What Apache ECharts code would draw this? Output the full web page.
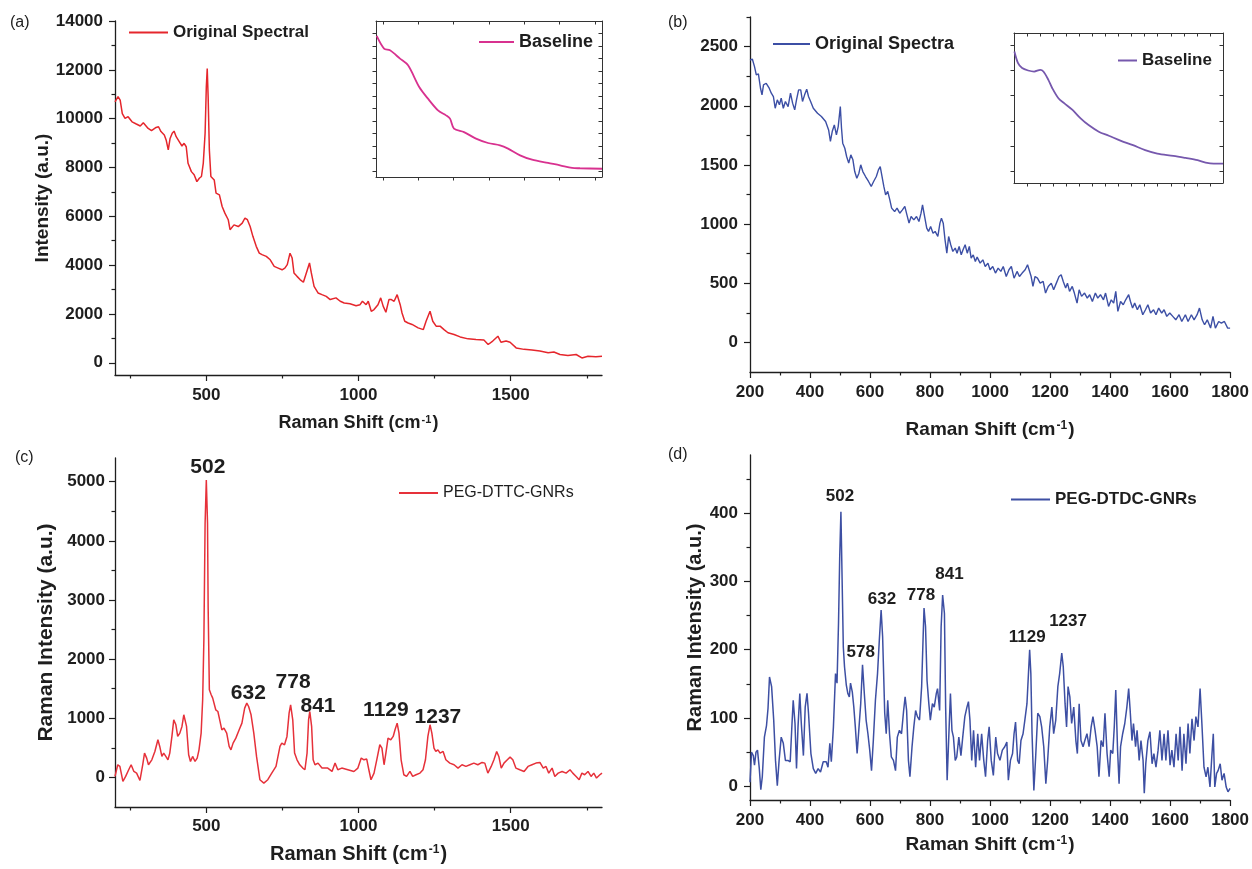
<!DOCTYPE html>
<html>
<head>
<meta charset="utf-8">
<script src="https://cdn.jsdelivr.net/npm/echarts@6/dist/echarts.min.js"></script>
<style>
  html, body { margin: 0; padding: 0; background: #fff; }
  #chart { width: 1252px; height: 869px; }
</style>
</head>
<body>
<div id="chart"></div>
<script>
// --- data: [Raman shift (cm-1), intensity] ---
const specA = [[200,10690],[210,10900],[217,10760],[224,10210],[233,10010],[243,10080],[256,9870],[270,9780],[283,9700],[293,9830],[298,9870],[309,9600],[320,9510],[335,9640],[343,9670],[351,9470],[362,9330],[368,9130],[375,8720],[381,9190],[388,9400],[394,9490],[401,9260],[411,9060],[420,8880],[427,8990],[434,8850],[440,8170],[451,7830],[460,7700],[469,7420],[477,7560],[484,7630],[490,8170],[496,9400],[500,11300],[503,12050],[506,10900],[510,8720],[515,7630],[526,7490],[532,6950],[543,6880],[552,6400],[561,6130],[572,5860],[578,5450],[591,5650],[605,5580],[618,5720],[627,5930],[635,5860],[644,5580],[653,5180],[664,4770],[674,4490],[683,4430],[697,4360],[710,4220],[723,3950],[736,3880],[749,3810],[758,3880],[766,4020],[775,4490],[782,4290],[788,3680],[798,3540],[808,3410],[819,3300],[824,3340],[832,3810],[839,4090],[845,3680],[854,3130],[867,2860],[880,2790],[894,2720],[907,2590],[926,2660],[940,2520],[953,2450],[972,2420],[992,2340],[1005,2380],[1013,2520],[1025,2380],[1032,2520],[1042,2110],[1051,2180],[1064,2380],[1073,2660],[1081,2320],[1090,2070],[1100,2590],[1108,2590],[1117,2520],[1127,2790],[1137,2380],[1143,2040],[1152,1700],[1163,1630],[1176,1570],[1196,1430],[1213,1360],[1222,1700],[1235,2110],[1244,1700],[1255,1500],[1268,1500],[1281,1360],[1294,1230],[1314,1160],[1334,1060],[1360,980],[1386,950],[1412,930],[1426,750],[1441,890],[1458,1090],[1468,840],[1485,890],[1498,840],[1518,610],[1544,550],[1570,520],[1596,480],[1623,410],[1642,440],[1662,340],[1688,300],[1715,340],[1734,200],[1754,270],[1780,250],[1800,270]];

const baselineA = [[205,90.4],[257,82.3],[299,81.2],[370,75.9],[427,71.6],[506,57.7],[568,50.2],[639,42.7],[696,39.5],[724,37.4],[752,31.0],[823,28.8],[908,24.6],[993,21.8],[1078,20.3],[1135,18.2],[1220,13.9],[1305,11.1],[1418,9.0],[1503,7.5],[1588,5.8],[1644,5.6],[1800,5.3]];

const specB = [[200,2387],[208,2393],[215,2331],[221,2261],[228,2269],[235,2148],[240,2092],[245,2176],[254,2190],[259,2204],[264,2148],[271,2106],[278,2078],[284,1979],[291,2050],[298,2008],[304,2064],[311,1979],[318,2036],[327,1993],[335,2106],[342,2022],[349,1965],[355,2050],[362,2134],[369,2134],[375,2036],[382,2092],[389,2140],[395,2078],[402,2036],[411,1979],[425,1937],[438,1909],[452,1867],[462,1796],[468,1698],[474,1782],[481,1838],[488,1754],[494,1824],[501,1993],[505,1810],[509,1684],[516,1641],[522,1571],[529,1515],[536,1585],[543,1543],[549,1444],[556,1388],[563,1430],[569,1501],[576,1444],[585,1402],[595,1360],[604,1318],[612,1360],[621,1402],[628,1458],[634,1486],[639,1416],[646,1318],[652,1247],[659,1276],[666,1205],[672,1135],[682,1106],[690,1135],[699,1092],[708,1120],[716,1149],[723,1078],[730,1008],[737,1064],[746,1036],[755,1064],[763,1022],[770,1092],[775,1163],[782,1064],[789,966],[795,938],[802,980],[810,923],[817,938],[826,895],[833,1008],[838,1050],[844,1008],[850,867],[856,754],[862,895],[869,825],[876,769],[884,797],[890,754],[897,811],[904,740],[910,783],[917,825],[924,754],[931,811],[937,712],[944,740],[951,684],[957,721],[967,670],[976,698],[984,642],[993,670],[1000,614],[1009,642],[1018,586],[1027,628],[1036,600],[1044,642],[1054,557],[1063,614],[1071,642],[1080,543],[1090,600],[1098,557],[1107,586],[1117,614],[1125,656],[1130,670],[1137,557],[1143,473],[1150,557],[1158,543],[1167,501],[1177,515],[1185,417],[1194,473],[1204,501],[1212,445],[1221,501],[1230,557],[1237,572],[1244,515],[1252,459],[1258,501],[1265,431],[1274,473],[1281,417],[1290,332],[1297,445],[1305,389],[1315,417],[1324,374],[1332,403],[1341,346],[1351,417],[1359,374],[1368,403],[1378,360],[1385,417],[1395,304],[1404,360],[1412,332],[1419,431],[1426,262],[1435,346],[1444,318],[1452,360],[1462,403],[1468,346],[1475,290],[1482,332],[1491,276],[1499,318],[1509,234],[1518,276],[1526,318],[1535,248],[1545,276],[1553,234],[1562,290],[1572,248],[1580,276],[1589,220],[1599,248],[1609,220],[1619,191],[1630,234],[1639,177],[1651,234],[1660,177],[1671,234],[1680,191],[1690,234],[1698,290],[1707,191],[1715,149],[1724,191],[1735,121],[1743,220],[1751,121],[1762,177],[1771,163],[1781,177],[1792,121],[1800,121]];

const baselineB = [[203,87.7],[231,79.9],[262,76.6],[308,75.0],[354,74.3],[401,75.4],[425,74.3],[463,68.8],[493,63.2],[540,56.5],[586,53.1],[648,48.7],[710,43.1],[771,38.6],[849,34.2],[926,31.5],[1019,28.1],[1111,25.2],[1204,21.9],[1297,19.6],[1420,18.1],[1513,16.7],[1605,15.2],[1667,13.6],[1729,12.9],[1800,12.9]];

const specC = [[200,17],[209,214],[216,186],[226,-68],[235,17],[245,130],[253,214],[262,101],[271,73],[282,-51],[291,214],[297,411],[304,327],[310,214],[321,298],[331,439],[341,636],[347,524],[354,355],[360,411],[367,355],[374,298],[380,411],[387,693],[393,974],[400,890],[406,693],[413,749],[420,862],[426,1059],[430,1087],[435,862],[442,383],[448,270],[455,355],[463,270],[470,327],[476,467],[483,749],[488,1312],[492,2326],[496,4296],[500,5028],[504,4296],[506,2889],[510,1481],[516,1397],[521,1340],[526,1368],[531,1143],[538,1115],[544,974],[551,805],[558,833],[567,749],[575,524],[581,467],[588,580],[597,664],[608,805],[617,918],[626,1171],[633,1256],[639,1199],[647,1059],[656,749],[665,355],[676,-39],[689,-96],[702,-39],[715,73],[729,186],[742,524],[748,580],[757,552],[765,693],[772,1087],[777,1228],[784,974],[790,411],[798,298],[807,214],[817,158],[824,130],[831,411],[836,974],[840,1115],[846,862],[851,298],[857,214],[867,242],[880,158],[899,158],[913,101],[923,242],[932,130],[945,158],[965,130],[985,101],[998,158],[1009,327],[1018,298],[1027,310],[1034,130],[1041,-39],[1051,73],[1060,298],[1070,552],[1077,496],[1084,214],[1090,411],[1097,664],[1106,636],[1114,693],[1120,805],[1127,918],[1133,749],[1140,298],[1149,45],[1158,17],[1169,101],[1178,17],[1189,45],[1202,73],[1212,130],[1220,298],[1228,693],[1235,890],[1241,749],[1248,496],[1254,439],[1261,467],[1268,411],[1278,439],[1287,298],[1300,242],[1314,214],[1327,158],[1340,214],[1353,186],[1366,214],[1379,242],[1392,214],[1406,253],[1415,242],[1425,73],[1436,186],[1445,298],[1454,439],[1461,355],[1469,158],[1478,242],[1489,298],[1498,343],[1507,298],[1517,158],[1530,130],[1544,101],[1557,186],[1570,214],[1583,242],[1596,253],[1607,158],[1616,186],[1625,73],[1636,158],[1645,17],[1656,73],[1669,101],[1682,73],[1695,130],[1704,73],[1715,17],[1725,-39],[1734,73],[1743,45],[1754,101],[1764,17],[1773,73],[1782,-11],[1793,45],[1800,73]];

const specD = [[200,6],[205,50],[211,45],[215,31],[220,50],[225,53],[231,26],[236,-5],[241,14],[248,72],[255,89],[260,114],[265,160],[272,146],[279,97],[285,38],[291,1],[297,38],[304,72],[311,63],[318,38],[326,38],[334,36],[340,92],[344,126],[350,92],[355,26],[360,87],[366,136],[371,92],[378,45],[384,116],[390,136],[395,107],[403,48],[411,26],[419,19],[427,26],[435,21],[444,36],[454,36],[460,28],[466,63],[471,36],[478,87],[485,165],[490,151],[495,239],[499,336],[503,402],[507,302],[511,204],[515,175],[521,148],[526,136],[531,131],[535,151],[541,138],[546,116],[551,87],[557,48],[562,50],[569,121],[575,178],[581,136],[587,97],[593,77],[599,53],[605,23],[611,67],[618,126],[625,165],[631,214],[637,258],[642,219],[649,107],[654,77],[659,126],[665,77],[671,43],[678,38],[685,23],[691,72],[698,82],[705,77],[712,111],[717,131],[722,111],[728,38],[733,14],[740,58],[746,87],[752,111],[758,102],[765,97],[772,146],[777,219],[780,261],[785,234],[790,155],[796,121],[801,97],[808,121],[814,116],[821,136],[825,143],[832,111],[837,234],[842,280],[848,253],[852,116],[857,9],[862,67],[868,136],[873,82],[878,72],[884,38],[889,43],[896,72],[903,45],[909,72],[916,102],[923,116],[928,124],[933,97],[939,38],[945,82],[952,28],[959,77],[965,38],[972,77],[979,38],[985,14],[992,67],[997,87],[1004,38],[1011,16],[1019,72],[1025,48],[1033,38],[1041,53],[1049,58],[1056,65],[1061,9],[1068,38],[1075,48],[1080,77],[1085,94],[1092,38],[1097,33],[1103,67],[1110,77],[1116,97],[1123,121],[1128,165],[1132,200],[1136,165],[1140,77],[1146,-6],[1152,43],[1159,107],[1166,102],[1172,87],[1179,58],[1186,4],[1192,38],[1199,87],[1206,116],[1212,77],[1219,97],[1226,146],[1232,165],[1239,195],[1244,175],[1250,121],[1255,87],[1260,146],[1266,131],[1272,92],[1279,116],[1286,67],[1291,48],[1297,121],[1303,67],[1310,58],[1316,67],[1323,77],[1330,58],[1337,87],[1343,102],[1350,82],[1357,58],[1363,14],[1370,67],[1377,58],[1383,107],[1390,48],[1397,14],[1402,53],[1409,48],[1414,87],[1419,141],[1425,53],[1430,4],[1435,58],[1442,77],[1449,92],[1456,116],[1462,143],[1467,111],[1473,67],[1478,92],[1485,58],[1490,82],[1497,38],[1503,67],[1510,38],[1514,-10],[1519,33],[1526,67],[1533,80],[1540,33],[1546,48],[1553,28],[1560,53],[1566,82],[1573,38],[1580,77],[1586,38],[1593,82],[1600,31],[1606,53],[1613,28],[1620,77],[1627,38],[1633,87],[1640,23],[1646,77],[1653,33],[1660,92],[1666,48],[1673,99],[1680,67],[1686,102],[1693,87],[1700,143],[1706,92],[1713,28],[1720,14],[1726,28],[1733,-1],[1739,43],[1744,77],[1749,-1],[1755,19],[1760,23],[1767,33],[1773,9],[1780,19],[1787,-1],[1793,-8],[1800,-3]];

// peak annotations: label text and anchor [shift, intensity]
const peakLabelsC = ['502', '632', '778', '841', '1129', '1237'];
const peakAnchorsC = [[505,5236],[638,1426],[785,1611],[867,1199],[1090,1132],[1261,1014]];
const peakLabelsD = ['502', '578', '632', '778', '841', '1129', '1237'];
const peakAnchorsD = [[500,425],[569,196],[640,274],[770,279],[865,311],[1124,218],[1260,242]];

// tick values
const shiftTicksAC = [500, 1000, 1500];
const shiftMinorAC = [250, 750, 1250, 1750];
const shiftTicksBD = [200, 400, 600, 800, 1000, 1200, 1400, 1600, 1800];
const shiftMinorBD = [300, 500, 700, 900, 1100, 1300, 1500, 1700];
const yTicksA = [0, 2000, 4000, 6000, 8000, 10000, 12000, 14000];
const yMinorA = [1000, 3000, 5000, 7000, 9000, 11000, 13000];
const yTicksB = [0, 500, 1000, 1500, 2000, 2500];
const yMinorB = [250, 750, 1250, 1750, 2250, 2750];
const yTicksC = [0, 1000, 2000, 3000, 4000, 5000];
const yMinorC = [500, 1500, 2500, 3500, 4500];
const yTicksD = [0, 100, 200, 300, 400];
const yMinorD = [50, 150, 250, 350, 450];
const insetXTicksA = [250, 500, 750, 1000, 1250, 1500, 1750];
const insetYTicksA = [4, 12, 20, 28, 36, 44, 52, 60, 68, 76, 84, 92];
const insetXTicksB = [300, 400, 500, 600, 700, 800, 900, 1000, 1100, 1200, 1300, 1400, 1500, 1600, 1700];
const insetYTicksB = [8, 24.75, 41.5, 58.25, 75, 91.75];

const FONT = '"Liberation Sans", Arial, sans-serif';
const INK = '#1e1e1e';
const SHIFT_TITLE = 'Raman Shift (cm{sup|-1})';

function titleStyle(size) {
  return {
    fontSize: size, fontWeight: 'bold', fontFamily: FONT, color: INK,
    rich: { sup: { fontSize: Math.round(size * 0.62), fontWeight: 'bold', fontFamily: FONT, color: INK, verticalAlign: 'top', padding: [0, 1, 0, 1] } }
  };
}

// main axis + an extra axis that only carries the short minor ticks
function axisPair(dim, gi, min, max, ticks, minors, o) {
  const pos = dim === 'x' ? 'bottom' : 'left';
  const lineStyle = { color: INK, width: 1.2 };
  const main = {
    type: 'value', gridIndex: gi, min: min, max: max, position: pos,
    axisLine: { show: true, onZero: false, lineStyle: { color: INK, width: 1.3 } },
    axisTick: { show: true, inside: false, length: 6, customValues: ticks, lineStyle: lineStyle },
    axisLabel: { show: true, customValues: ticks, margin: o.margin, color: INK, fontFamily: FONT, fontWeight: 'bold', fontSize: o.fontSize, formatter: v => String(v) },
    splitLine: { show: false }
  };
  if (o.name) {
    main.name = o.name;
    main.nameLocation = 'middle';
    main.nameGap = o.nameGap;
    main.nameTextStyle = titleStyle(o.nameSize);
  }
  const minor = {
    type: 'value', gridIndex: gi, min: min, max: max, position: pos,
    axisLine: { show: false, onZero: false },
    axisTick: { show: true, inside: false, length: 3.5, customValues: minors, lineStyle: lineStyle },
    axisLabel: { show: false },
    splitLine: { show: false }
  };
  return [main, minor];
}

// boxed inset: bottom/left ticks out, top/right ticks in, no labels
function insetAxes(dim, gi, min, max, ticks) {
  const sides = dim === 'x' ? ['bottom', 'top'] : ['left', 'right'];
  return sides.map((pos, i) => ({
    type: 'value', gridIndex: gi, min: min, max: max, position: pos,
    axisLine: { show: true, onZero: false, lineStyle: { color: '#333', width: 1 } },
    axisTick: { show: true, inside: i === 1, length: 3.5, customValues: ticks, lineStyle: { color: '#333', width: 1 } },
    axisLabel: { show: false },
    splitLine: { show: false }
  }));
}

function spectrum(name, data, idx, color, width, extra) {
  return Object.assign({
    type: 'line', name: name, data: data, xAxisIndex: idx, yAxisIndex: idx,
    symbol: 'none', showSymbol: false, silent: true, animation: false,
    lineStyle: { color: color, width: width }, itemStyle: { color: color }
  }, extra || {});
}

function peakMarks(labels, anchors, size) {
  return {
    symbol: 'circle', symbolSize: 1, silent: true, animation: false,
    itemStyle: { color: 'rgba(0,0,0,0)' },
    label: { show: true, position: 'inside', formatter: '{b}', color: INK, fontFamily: FONT, fontWeight: 'bold', fontSize: size },
    data: labels.map((t, i) => ({ name: t, coord: anchors[i] }))
  };
}

function legendAt(name, left, top, size, bold, width, fmt) {
  return {
    data: [name], left: left, top: top, padding: 0, itemWidth: width, itemHeight: 2,
    icon: 'rect', selectedMode: false, formatter: fmt,
    textStyle: { fontSize: size, fontWeight: bold ? 'bold' : 'normal', fontFamily: FONT, color: INK }
  };
}

const chart = echarts.init(document.getElementById('chart'));

const option = {
  backgroundColor: '#fff',
  animation: false,
  grid: [
    { left: 115, top: 21, width: 487, height: 354 },   // a
    { left: 376, top: 21, width: 226, height: 156 },   // a inset
    { left: 750, top: 17, width: 483, height: 355 },   // b
    { left: 1014, top: 33, width: 209, height: 150 },  // b inset
    { left: 115, top: 458, width: 487, height: 349 },  // c
    { left: 750, top: 455, width: 484, height: 345 }   // d
  ],
  xAxis: [].concat(
    axisPair('x', 0, 200, 1800, shiftTicksAC, shiftMinorAC, { fontSize: 17, margin: 12, name: SHIFT_TITLE, nameGap: 39, nameSize: 18 }),
    insetAxes('x', 1, 200, 1800, insetXTicksA),
    axisPair('x', 2, 200, 1800, shiftTicksBD, shiftMinorBD, { fontSize: 17, margin: 12, name: SHIFT_TITLE, nameGap: 48, nameSize: 19 }),
    insetAxes('x', 3, 200, 1800, insetXTicksB),
    axisPair('x', 4, 200, 1800, shiftTicksAC, shiftMinorAC, { fontSize: 17, margin: 11, name: SHIFT_TITLE, nameGap: 37, nameSize: 20 }),
    axisPair('x', 5, 200, 1800, shiftTicksBD, shiftMinorBD, { fontSize: 17, margin: 12, name: SHIFT_TITLE, nameGap: 35, nameSize: 19 })
  ),
  yAxis: [].concat(
    axisPair('y', 0, -500, 14000, yTicksA, yMinorA, { fontSize: 17, margin: 12, name: 'Intensity (a.u.)', nameGap: 62, nameSize: 19 }),
    insetAxes('y', 1, 0, 100, insetYTicksA),
    axisPair('y', 2, -250, 2750, yTicksB, yMinorB, { fontSize: 17, margin: 12 }),
    insetAxes('y', 3, 0, 100, insetYTicksB),
    axisPair('y', 4, -500, 5400, yTicksC, yMinorC, { fontSize: 17, margin: 10, name: 'Raman Intensity (a.u.)', nameGap: 58, nameSize: 21 }),
    axisPair('y', 5, -20, 485, yTicksD, yMinorD, { fontSize: 17, margin: 12, name: 'Raman Intensity (a.u.)', nameGap: 45, nameSize: 20 })
  ),
  legend: [
    legendAt('Original Spectral', 129, 24, 17, true, 39),
    legendAt('Baseline a', 479, 33, 18, true, 35, () => 'Baseline'),
    legendAt('Original Spectra', 773, 35, 18, true, 37),
    legendAt('Baseline b', 1118, 52, 17, true, 19, () => 'Baseline'),
    legendAt('PEG-DTTC-GNRs', 399, 485, 16, false, 39),
    legendAt('PEG-DTDC-GNRs', 1011, 491, 17, true, 39)
  ],
  series: [
    spectrum('Original Spectral', specA, 0, '#e5262c', 1.5),
    spectrum('Baseline a', baselineA, 2, '#d8318f', 1.8, { smooth: 0.3 }),
    spectrum('Original Spectra', specB, 4, '#3c4fa5', 1.4),
    spectrum('Baseline b', baselineB, 6, '#7658ad', 1.8, { smooth: 0.3 }),
    spectrum('PEG-DTTC-GNRs', specC, 8, '#e6313a', 1.5, { markPoint: peakMarks(peakLabelsC, peakAnchorsC, 21) }),
    spectrum('PEG-DTDC-GNRs', specD, 10, '#3d4fa3', 1.5, { markPoint: peakMarks(peakLabelsD, peakAnchorsD, 17) })
  ],
  graphic: [
    { type: 'text', left: 10, top: 15, style: { text: '(a)', fontSize: 16, fontFamily: FONT, fill: INK } },
    { type: 'text', left: 668, top: 15, style: { text: '(b)', fontSize: 16, fontFamily: FONT, fill: INK } },
    { type: 'text', left: 15, top: 450, style: { text: '(c)', fontSize: 16, fontFamily: FONT, fill: INK } },
    { type: 'text', left: 668, top: 447, style: { text: '(d)', fontSize: 16, fontFamily: FONT, fill: INK } }
  ]
};

chart.setOption(option);
</script>
</body>
</html>
